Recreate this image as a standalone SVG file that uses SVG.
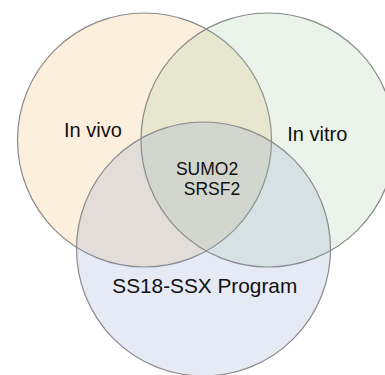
<svg xmlns="http://www.w3.org/2000/svg" width="385" height="375" viewBox="0 0 385 375">
  <style>
    .set { stroke: #8a8a8a; stroke-width: 1.2; fill-opacity: 0.2; }
    .label { font-family: "Liberation Sans", Arial, sans-serif; fill: #111; }
  </style>
  <rect width="385" height="375" fill="#ffffff"/>
  <g id="in-vivo">
    <circle class="set" cx="144.5" cy="140" r="127" fill="#f0ae5a"/>
    <text class="label" x="64" y="136.7" font-size="20">In vivo</text>
  </g>
  <g id="in-vitro">
    <circle class="set" cx="268" cy="140" r="127" fill="#96c896"/>
    <text class="label" x="287.3" y="141" font-size="20">In vitro</text>
  </g>
  <g id="ss18-ssx-program">
    <circle class="set" cx="203.5" cy="249" r="127" fill="#8296c8"/>
    <text class="label" x="112.3" y="292.7" font-size="20.8">SS18-SSX Program</text>
  </g>
  <g id="overlap">
    <text class="label" font-size="17.5" text-anchor="middle">
      <tspan x="209.5" y="175">SUMO2</tspan>
      <tspan x="209.5" y="194.5" xml:space="preserve"> SRSF2</tspan>
    </text>
  </g>
  <g id="connectors"/>
</svg>
